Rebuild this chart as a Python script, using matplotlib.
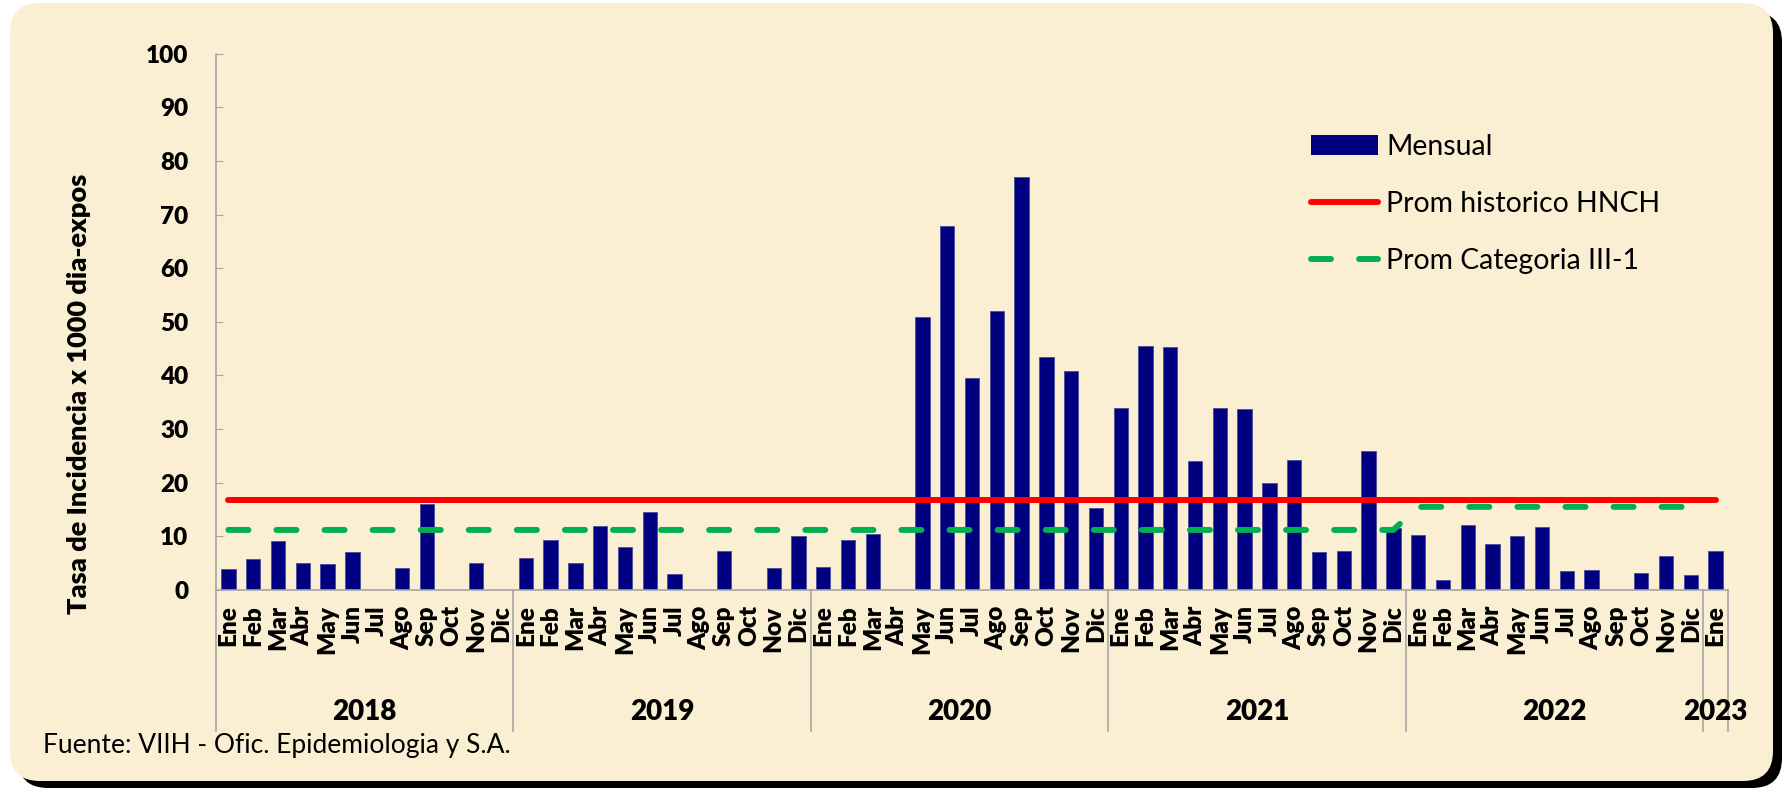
import matplotlib
matplotlib.use("Agg")
import matplotlib.pyplot as plt
from matplotlib.patches import FancyBboxPatch, Patch
from matplotlib.lines import Line2D
import matplotlib.transforms as mtransforms

plt.rcParams['font.family'] = ['Lato', 'DejaVu Sans']

# --- data ---
meses = ["Ene", "Feb", "Mar", "Abr", "May", "Jun",
         "Jul", "Ago", "Sep", "Oct", "Nov", "Dic"]
anios = ["2018", "2019", "2020", "2021", "2022", "2023"]

mensual_2018 = [3.9, 5.7, 9.1, 5.1, 4.8, 7.0, 0, 4.1, 16.0, 0, 5.0, 0]
mensual_2019 = [6.0, 9.3, 5.0, 11.9, 8.1, 14.6, 3.0, 0, 7.3, 0, 4.1, 10.1]
mensual_2020 = [4.2, 9.3, 10.5, 0, 50.9, 67.8, 39.6, 52.0, 77.1, 43.5, 40.9, 15.2]
mensual_2021 = [34.0, 45.5, 45.3, 24.0, 33.9, 33.8, 19.9, 24.2, 7.0, 7.3, 26.0, 11.6]
mensual_2022 = [10.2, 1.9, 12.1, 8.6, 10.1, 11.8, 3.6, 3.8, 0, 3.2, 6.3, 2.8]
mensual_2023 = [7.2]

prom_hnch = 16.7
prom_cat_2018_2021 = 11.2
prom_cat_2022 = 15.5

mensual = mensual_2018 + mensual_2019 + mensual_2020 + mensual_2021 + mensual_2022 + mensual_2023
etiquetas = meses * 5 + meses[:1]
n = len(mensual)
x = list(range(n))

hnch = [prom_hnch for _ in x]
categoria = [prom_cat_2018_2021 for _ in range(48)] + [prom_cat_2022 for _ in range(12)]

# --- figure & background frame ---
W, H = 1792, 790
fig = plt.figure(figsize=(W / 100, H / 100), dpi=100)
fig.patch.set_facecolor("white")

bg = fig.add_axes([0, 0, 1, 1], zorder=-1)
bg.set_xlim(0, W)
bg.set_ylim(H, 0)
bg.axis("off")
shadow = FancyBboxPatch((18, 12), W - 28, H - 14, boxstyle="round,pad=0,rounding_size=30",
                        facecolor="black", edgecolor="none")
frame = FancyBboxPatch((10, 3), W - 29, H - 12, boxstyle="round,pad=0,rounding_size=30",
                       facecolor="#FBEFD3", edgecolor="none")
bg.add_patch(shadow)
bg.add_patch(frame)

ax = fig.add_axes([216 / W, 1 - 590 / H, 1512 / W, (590 - 53.7) / H])
ax.patch.set_alpha(0)

ax.bar(x, mensual, width=0.58, color="#000080", edgecolor="#4a4a9a", linewidth=0.6,
       label="Mensual", zorder=2)
ax.plot(x, hnch, color="#FF0000", lw=4.3, solid_capstyle="round", zorder=3,
        label="Prom historico HNCH")
ax.plot(x[:len(categoria)], categoria, color="#00B050", lw=4.3, dashes=(3.35, 4.7),
        dash_capstyle="round", zorder=3, label="Prom Categoria III-1")

ax.set_xlim(-0.5, n - 0.5)
ax.set_ylim(0, 100)
ax.set_yticks(range(0, 101, 10))
ax.tick_params(axis="y", direction="in", length=5, color="#A6A6A6", pad=20,
               labelsize=17.5)
for t in ax.get_yticklabels():
    t.set_fontweight("heavy")

ax.set_xticks(x)
ax.set_xticklabels(etiquetas, rotation=90, fontsize=17.5, fontweight="heavy", va="top")
ax.tick_params(axis="x", length=0, pad=11)

for s in ["top", "right"]:
    ax.spines[s].set_visible(False)
ax.spines["left"].set_color("#A6A6A6")
ax.spines["bottom"].set_color("#A6A6A6")
ax.spines["left"].set_linewidth(1.2)
ax.spines["bottom"].set_linewidth(1.2)

ax.set_ylabel("Tasa de Incidencia x 1000 dia-expos", fontsize=19.5, fontweight="heavy")
ax.yaxis.set_label_coords(-0.083, 0.365)

# year group labels and separators
trans = mtransforms.blended_transform_factory(ax.transData, ax.transAxes)
cortes = [-0.5, 11.5, 23.5, 35.5, 47.5, 59.5, 60.5]
for c in cortes:
    ax.plot([c, c], [0, -0.263], transform=trans, color="#A6A6A6", lw=1.2, clip_on=False)
centros = [5.5, 17.5, 29.5, 41.5, 53.5, 60]
for cx, a in zip(centros, anios):
    ax.text(cx, -0.228, a, transform=trans, ha="center", va="center",
            fontsize=20, fontweight="heavy")

# legend
handles = [Patch(facecolor="#000080", edgecolor="none"),
           Line2D([0], [0], color="#FF0000", lw=4.3, solid_capstyle="round"),
           Line2D([0], [0], color="#00B050", lw=4.3, dashes=(3.35, 4.7),
                  dash_capstyle="round")]
ax.legend(handles, ["Mensual", "Prom historico HNCH", "Prom Categoria III-1"],
          loc="upper left", bbox_to_anchor=(1311 / W, 1 - 134 / H),
          bbox_transform=fig.transFigure, frameon=False, fontsize=20.4,
          handlelength=2.35, handletextpad=0.3, labelspacing=1.1, borderpad=0,
          borderaxespad=0)

fig.text(43 / W, 1 - 745 / H, "Fuente: VIIH - Ofic. Epidemiologia y S.A.",
         fontsize=19, va="center", ha="left")

fig.savefig("out.png", dpi=100)
